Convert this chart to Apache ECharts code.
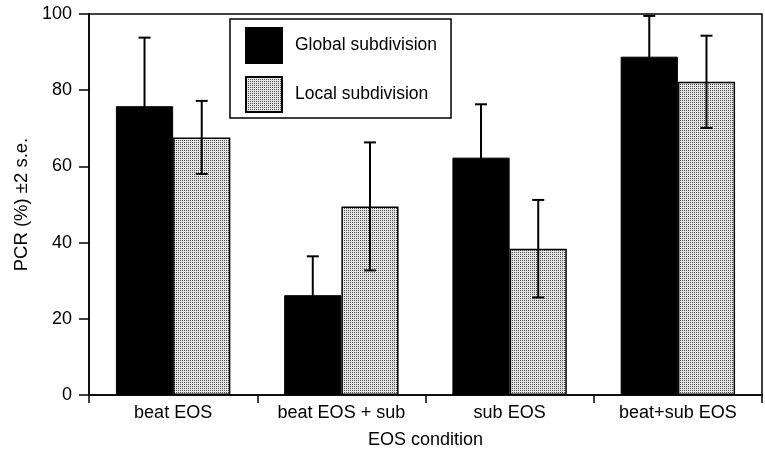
<!DOCTYPE html>
<html>
<head>
<meta charset="utf-8">
<script src="https://cdn.jsdelivr.net/npm/echarts@6/dist/echarts.min.js"></script>
<style>
html,body{margin:0;padding:0;background:#fff;}
#chart{width:765px;height:454px;}
</style>
</head>
<body>
<div id="chart"></div>
<script>
const categories = ['beat EOS', 'beat EOS + sub', 'sub EOS', 'beat+sub EOS'];
const seriesNames = ['Global subdivision', 'Local subdivision'];
const globalMeans = [75.8, 26.2, 62.3, 88.8];
const globalErr = [18.0, 10.2, 14.0, 10.7];
const localMeans = [67.6, 49.5, 38.4, 82.2];
const localErr = [9.6, 16.8, 12.8, 12.1];
const yTicks = [0, 20, 40, 60, 80, 100];

const FONT = 'Liberation Sans, Arial, Helvetica, sans-serif';

// stipple fill pattern
const pat = document.createElement('canvas');
pat.width = 2; pat.height = 2;
const pctx = pat.getContext('2d');
pctx.fillStyle = '#e4e4e4';
pctx.fillRect(0, 0, 2, 2);
pctx.fillStyle = '#505050';
pctx.fillRect(0, 0, 1, 1);
const stipple = { image: pat, repeat: 'repeat' };

function errData(means, errs) {
  return means.map((m, i) => [i, m - errs[i], m + errs[i]]);
}

function errRenderer(sign) {
  return function (params, api) {
    const band = api.size([1, 0])[0];
    const off = sign * band * 0.17;
    const x = api.coord([api.value(0), 0])[0] + off;
    const lo = api.coord([api.value(0), api.value(1)])[1];
    const hi = api.coord([api.value(0), api.value(2)])[1];
    const cap = 6;
    const style = { stroke: '#000', lineWidth: 2 };
    return {
      type: 'group',
      children: [
        { type: 'line', shape: { x1: x, y1: lo, x2: x, y2: hi }, style: style },
        { type: 'line', shape: { x1: x - cap, y1: hi, x2: x + cap, y2: hi }, style: style },
        { type: 'line', shape: { x1: x - cap, y1: lo, x2: x + cap, y2: lo }, style: style }
      ]
    };
  };
}

const chart = echarts.init(document.getElementById('chart'));
chart.setOption({
  animation: false,
  textStyle: { fontFamily: FONT, color: '#000' },
  grid: {
    left: 89, right: 3, top: 14, bottom: 57,
    show: true, borderColor: '#000', borderWidth: 1.5, backgroundColor: 'transparent'
  },
  legend: {
    left: 230, top: 19,
    orient: 'vertical',
    itemWidth: 36, itemHeight: 35, itemGap: 12,
    padding: [8, 14, 5, 15],
    borderColor: '#000', borderWidth: 1.5,
    textStyle: { fontSize: 17.5, color: '#000', fontFamily: FONT, padding: [0, 0, 0, 8] },
    data: [
      { name: seriesNames[0], icon: 'rect' },
      { name: seriesNames[1], icon: 'rect' }
    ]
  },
  xAxis: {
    type: 'category',
    data: categories,
    name: 'EOS condition',
    nameLocation: 'middle',
    nameGap: 36,
    nameTextStyle: { fontSize: 18, color: '#000', fontFamily: FONT },
    axisLine: { lineStyle: { color: '#000', width: 1.5 } },
    axisTick: { show: true, length: 8, lineStyle: { color: '#000', width: 1.5 } },
    axisLabel: { fontSize: 18, color: '#000', margin: 9, fontFamily: FONT },
    splitLine: { show: false }
  },
  yAxis: {
    type: 'value',
    min: yTicks[0], max: yTicks[yTicks.length - 1], interval: 20,
    name: 'PCR (%) \u00b12 s.e.',
    nameLocation: 'middle',
    nameGap: 52,
    nameTextStyle: { fontSize: 18.5, color: '#000', fontFamily: FONT },
    axisLine: { show: true, lineStyle: { color: '#000', width: 1.5 } },
    axisTick: { show: true, length: 10, lineStyle: { color: '#000', width: 1.5 } },
    axisLabel: { fontSize: 18, color: '#000', margin: 17, fontFamily: FONT },
    splitLine: { show: false }
  },
  series: [
    {
      name: seriesNames[0], type: 'bar', data: globalMeans,
      barWidth: '34%', barGap: '0%',
      itemStyle: { color: '#000', borderColor: '#000', borderWidth: 1 }
    },
    {
      name: seriesNames[1], type: 'bar', data: localMeans,
      barWidth: '34%', barGap: '0%',
      itemStyle: { color: stipple, borderColor: '#000', borderWidth: 1.5 }
    },
    {
      type: 'custom', name: 'errG', renderItem: errRenderer(-1),
      data: errData(globalMeans, globalErr), encode: { x: 0, y: [1, 2] }, z: 5
    },
    {
      type: 'custom', name: 'errL', renderItem: errRenderer(1),
      data: errData(localMeans, localErr), encode: { x: 0, y: [1, 2] }, z: 5
    }
  ]
});
</script>
</body>
</html>
